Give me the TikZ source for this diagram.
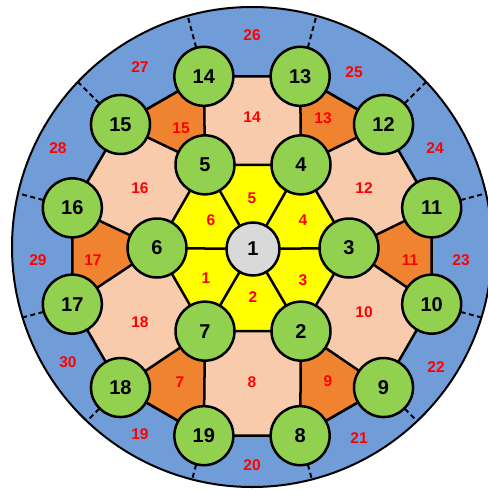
\documentclass[tikz,border=0pt]{standalone}
\usepackage{fontspec}
\setmainfont{Liberation Sans}
\usetikzlibrary{calc}
\definecolor{cblue}{RGB}{112,157,216}
\definecolor{cpeach}{RGB}{248,203,173}
\definecolor{corange}{RGB}{240,131,48}
\definecolor{cyellow}{RGB}{255,255,0}
\definecolor{cgreen}{RGB}{146,208,80}
\definecolor{cgray}{RGB}{217,217,217}
\begin{document}
\begin{tikzpicture}[x=1pt,y=-1pt,
  edge/.style={draw=black,line width=2.5pt,line join=miter},
  dashline/.style={draw=black,line width=2pt,dash pattern=on 5pt off 3.5pt},
  gnode/.style={circle,draw=black,line width=2.5pt,fill=cgreen,minimum size=59pt,inner sep=0pt,font=\fontsize{20}{20}\selectfont\bfseries},
  cnode/.style={circle,draw=black,line width=2.5pt,fill=cgray,minimum size=53pt,inner sep=0pt,font=\fontsize{20}{20}\selectfont\bfseries},
  rlab/.style={text=red,inner sep=0pt,font=\fontsize{15.5}{15.5}\selectfont\bfseries}]
\useasboundingbox (0,0) rectangle (487,492);
\coordinate (Cc) at (252,247);
% inner hexagon
\foreach \n/\a in {2/300,3/0,4/60,5/120,6/180,7/240}
  \coordinate (p\n) at ({253+96*cos(\a)},{248-96*sin(\a)});
\coordinate (p1) at (253,249);
% outer ring
\foreach \n/\a in {8/285,9/315,10/345,11/15,12/45,13/75,14/105,15/135,16/165,17/195,18/225,19/255}
  \coordinate (p\n) at ({252+186*cos(\a)},{256-186*sin(\a)});
% blue disc
\fill[cblue] (Cc) circle (240pt);
\begin{scope}
  \clip (Cc) circle (240pt);
  \foreach \a in {285,315,345,15,45,75,105,135,165,195,225,255}
    \draw[dashline] ({252+216*cos(\a)},{256-216*sin(\a)}) -- ({252+280*cos(\a)},{256-280*sin(\a)});
\end{scope}
\draw[line width=2pt] (Cc) circle (240pt);
% peach dodecagon
\filldraw[edge,fill=cpeach] (p8) -- (p9) -- (p10) -- (p11) -- (p12) -- (p13) -- (p14) -- (p15) -- (p16) -- (p17) -- (p18) -- (p19) -- cycle;
% orange triangles
\foreach \i/\a/\b in {4/13/12,3/11/10,2/9/8,7/19/18,6/17/16,5/15/14}
  \filldraw[edge,fill=corange] (p\i) -- (p\a) -- (p\b) -- cycle;
% yellow hexagon
\filldraw[edge,fill=cyellow] (p2) -- (p3) -- (p4) -- (p5) -- (p6) -- (p7) -- cycle;
\foreach \i in {2,...,7} \draw[edge] (p1) -- (p\i);
% region labels
\node[rlab] (y5) at (252,198) {5};
\node[rlab] (y4) at (303,220) {4};
\node[rlab] (y3) at (303,280) {3};
\node[rlab] (y2) at (253,297) {2};
\node[rlab] (y1) at (206,278) {1};
\node[rlab] (y6) at (211,220) {6};
\node[rlab] (q14) at (252,117) {14};
\node[rlab] (q12) at (364,188) {12};
\node[rlab] (q10) at (364,312) {10};
\node[rlab] (q8) at (252,382) {8};
\node[rlab] (q18) at (140,322) {18};
\node[rlab] (q16) at (140,188) {16};
\node[rlab] (o13) at (323,118) {13};
\node[rlab] (o11) at (410,260) {11};
\node[rlab] (o9) at (328,381) {9};
\node[rlab] (o7) at (180,382) {7};
\node[rlab] (o17) at (93,260) {17};
\node[rlab] (o15) at (181,128) {15};
\node[rlab] (b26) at (252,35) {26};
\node[rlab] (b25) at (354,72) {25};
\node[rlab] (b24) at (435,148) {24};
\node[rlab] (b23) at (461,260) {23};
\node[rlab] (b22) at (436,367) {22};
\node[rlab] (b21) at (359,438) {21};
\node[rlab] (b20) at (252,465) {20};
\node[rlab] (b19) at (140,434) {19};
\node[rlab] (b30) at (68,362) {30};
\node[rlab] (b29) at (38,260) {29};
\node[rlab] (b28) at (58,148) {28};
\node[rlab] (b27) at (140,67) {27};
% nodes
\node[cnode] (n1) at (p1) {1};
\foreach \n in {2,...,19} \node[gnode] (n\n) at (p\n) {\n};
\end{tikzpicture}
\end{document}
